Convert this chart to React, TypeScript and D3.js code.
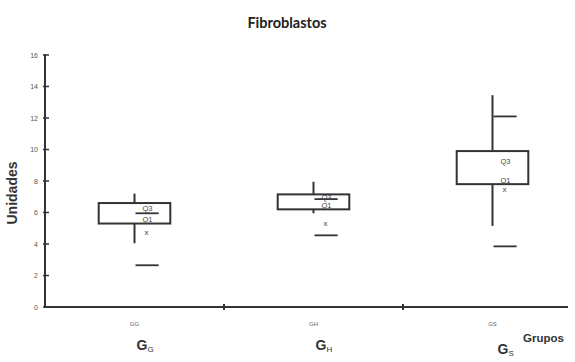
import React from 'react';
import * as d3 from 'd3';

// values
const groups = ['GG', 'GH', 'GS'];
const groupSubs = ['G', 'H', 'S'];
const whiskerHigh = [7.2, 7.95, 13.45];
const q3 = [6.6, 7.15, 9.9];
const q1 = [5.3, 6.2, 7.8];
const whiskerLow = [4.05, 5.95, 5.15];
const markHigh = [5.95, 6.85, 12.1];
const markLow = [2.65, 4.55, 3.85];
const meanX = [4.7, 5.3, 7.45];
const yTicks = [0, 2, 4, 6, 8, 10, 12, 14, 16];

const W = 575, H = 362;
const ink = '#333';

export default function App() {
  const y = d3.scaleLinear().domain([0, 16]).range([307, 55]);
  const x = d3.scaleBand<string>().domain(groups).range([45, 582]).padding(0);
  const bw = x.bandwidth();
  const boxW = bw * 0.4;
  const markW = bw * 0.135;

  return (
    <svg width={W} height={H} style={{ position: 'absolute', left: 0, top: 0, background: '#fff' }}
         fontFamily="Arial, 'Liberation Sans', sans-serif">
      <text x={287} y={28} textAnchor="middle" fontFamily="Lato, sans-serif" fontWeight="bold"
            fontSize={14.5} fill="#222">Fibroblastos</text>

      {/* y axis */}
      <line x1={45} x2={45} y1={y(16) - 1} y2={y(0) + 1} stroke={ink} strokeWidth={2} />
      {yTicks.map(t => (
        <g key={t}>
          <line x1={43} x2={49} y1={y(t)} y2={y(t)} stroke={ink} strokeWidth={1.5} />
          <text x={38} y={y(t) + 2.5} textAnchor="end" fontSize={7} fill="#555">{t}</text>
        </g>
      ))}
      <text transform={`translate(17,193) rotate(-90)`} textAnchor="middle" fontWeight="bold"
            fontSize={14} fill={ink}>Unidades</text>

      {/* x axis */}
      <line x1={44} x2={568} y1={y(0)} y2={y(0)} stroke={ink} strokeWidth={2} />
      {groups.slice(1).map(g => (
        <line key={g} x1={x(g)!} x2={x(g)!} y1={y(0) - 3} y2={y(0) + 3} stroke={ink} strokeWidth={2} />
      ))}
      {groups.map((g, i) => {
        const cx = x(g)! + bw / 2;
        return (
          <g key={g}>
            <text x={cx} y={326} textAnchor="middle" fontSize={6} fill="#666">{g}</text>
            <text x={cx + (i === 2 ? 5 : 2)} y={i === 2 ? 354 : 350} fontWeight="bold" fontSize={14} fill={ink}>
              G<tspan fontSize={8} fontWeight="normal" dy={2}>{groupSubs[i]}</tspan>
            </text>
          </g>
        );
      })}
      <text x={523} y={342} fontWeight="bold" fontSize={11.5} fill={ink}>Grupos</text>

      {/* boxes */}
      {groups.map((g, i) => {
        const cx = x(g)! + bw / 2;
        const top = y(q3[i]);
        const bot = y(q1[i]);
        const h = bot - top;
        return (
          <g key={g}>
            <line x1={cx} x2={cx} y1={y(whiskerHigh[i])} y2={top} stroke={ink} strokeWidth={2} />
            <line x1={cx} x2={cx} y1={bot} y2={y(whiskerLow[i])} stroke={ink} strokeWidth={2} />
            <rect x={cx - boxW / 2} y={top} width={boxW} height={h} fill="none" stroke={ink} strokeWidth={2} />
            <line x1={cx + 1} x2={cx + markW} y1={y(markHigh[i])} y2={y(markHigh[i])} stroke={ink} strokeWidth={1.8} />
            <line x1={cx + 1} x2={cx + markW} y1={y(markLow[i])} y2={y(markLow[i])} stroke={ink} strokeWidth={1.8} />
            <text x={cx + 13} y={top + Math.min(h * 0.38, 13)} textAnchor="middle" fontSize={7.5} fill="#444">Q3</text>
            <text x={cx + 13} y={bot - 1.5} textAnchor="middle" fontSize={7.5} fill="#444">Q1</text>
            <text x={cx + 12} y={y(meanX[i]) + 2.5} textAnchor="middle" fontSize={8} fill="#444">x</text>
          </g>
        );
      })}
    </svg>
  );
}
